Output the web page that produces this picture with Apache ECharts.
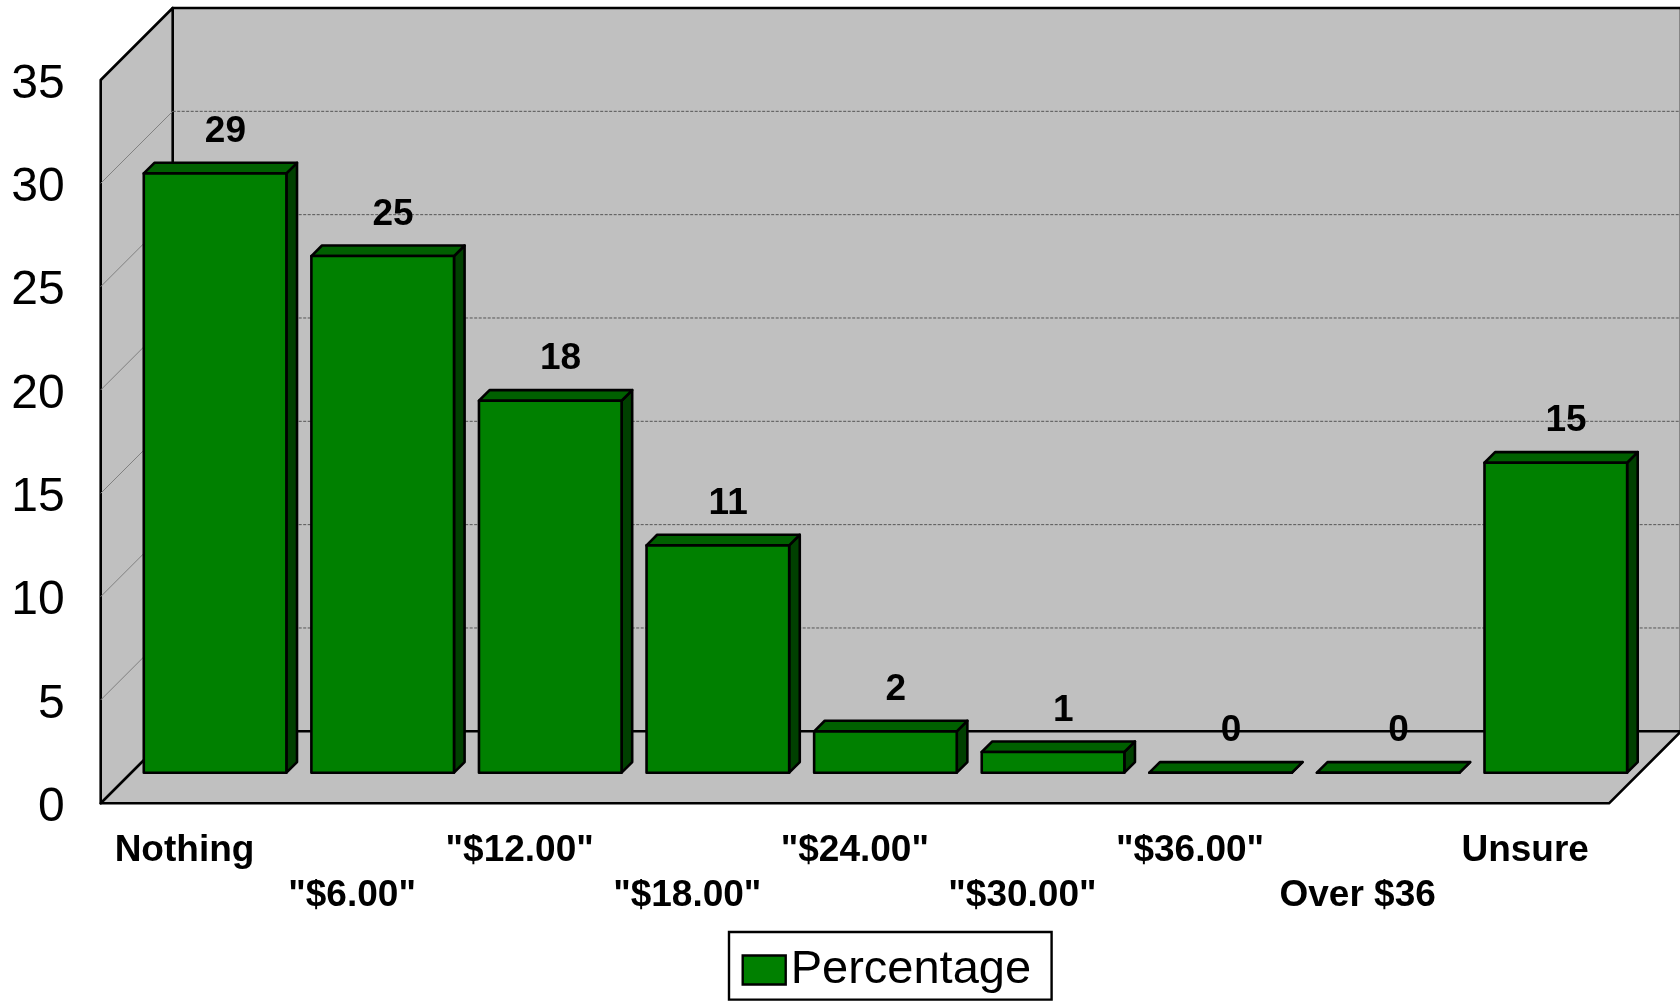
<!DOCTYPE html>
<html>
<head>
<meta charset="utf-8">
<style>html,body{margin:0;padding:0;background:#fff;overflow:hidden}#c{width:1680px;height:1001px}</style>
<script src="https://cdn.jsdelivr.net/npm/echarts@6/dist/echarts.min.js"></script>
</head>
<body>
<div id="c"></div>
<script>
const categories = ['Nothing', '"$6.00"', '"$12.00"', '"$18.00"', '"$24.00"', '"$30.00"', '"$36.00"', 'Over $36', 'Unsure'];
const percentage = [29, 25, 18, 11, 2, 1, 0, 0, 15];
const yTicks = [5, 10, 15, 20, 25, 30];
const seriesName = 'Percentage';

const FONT = '"Liberation Sans", Arial, sans-serif';
const WALL = 72, BAR_OFF = 30.6, BAR_DEPTH = 10.6, BAR_RATIO = 0.851, LW = 2.6;
const FRONT = '#008000', TOP = '#006000', SIDE = '#004000', WALLC = '#C0C0C0';
const edge = { stroke: '#000', lineWidth: LW, lineJoin: 'round' };

function poly(points, fill, z2) {
  return { type: 'polygon', z2: z2 || 0, shape: { points }, style: Object.assign({ fill }, edge) };
}
function line(a, b, stroke, lineWidth, dash) {
  return { type: 'line', shape: { x1: a[0], y1: a[1], x2: b[0], y2: b[1] },
           style: { stroke, lineWidth, lineDash: dash || null, fill: null } };
}

function renderWalls(params, api) {
  const band = api.size([1, 0])[0];
  const l = api.coord([0, 0])[0] - band / 2;
  const r = api.coord([categories.length - 1, 0])[0] + band / 2;
  const y0 = api.coord([0, 0])[1], yT = api.coord([0, 35])[1];
  const children = [
    poly([[l + WALL, yT - WALL], [r + WALL, yT - WALL], [r + WALL, y0 - WALL], [l + WALL, y0 - WALL]], WALLC),
    poly([[l, yT], [l + WALL, yT - WALL], [l + WALL, y0 - WALL], [l, y0]], WALLC),
    poly([[l, y0], [l + WALL, y0 - WALL], [r + WALL, y0 - WALL], [r, y0]], WALLC)
  ];
  yTicks.forEach(v => {
    const y = api.coord([0, v])[1];
    children.push(line([l, y], [l + WALL, y - WALL], '#808080', 1));
    children.push(line([l + WALL, y - WALL], [r + WALL, y - WALL], '#555', 1, [3, 1.5]));
  });
  return { type: 'group', children };
}

function renderBar(params, api) {
  const idx = api.value(0), val = api.value(1);
  const band = api.size([1, 0])[0];
  const w = band * BAR_RATIO;
  const base = api.coord([idx, 0]), top = api.coord([idx, val]);
  const x1 = base[0] - w / 2 + BAR_OFF, x2 = x1 + w;
  const yb = base[1] - BAR_OFF, yt = top[1] - BAR_OFF;
  const d = BAR_DEPTH;
  return { type: 'group', children: [
    poly([[x2, yb], [x2 + d, yb - d], [x2 + d, yt - d], [x2, yt]], SIDE),
    poly([[x1, yt], [x1 + d, yt - d], [x2 + d, yt - d], [x2, yt]], TOP),
    poly([[x1, yb], [x2, yb], [x2, yt], [x1, yt]], FRONT),
    { type: 'text', style: { text: String(val), x: (x1 + x2) / 2 + d - 0.3, y: yt - 41.5,
      textAlign: 'center', textVerticalAlign: 'middle', fill: '#000',
      font: 'bold 37px ' + FONT } }
  ] };
}

const chart = echarts.init(document.getElementById('c'), null, { renderer: 'canvas', width: 1680, height: 1001 });
chart.setOption({
  animation: false,
  backgroundColor: '#fff',
  grid: { left: 100.7, right: 71, top: 80, bottom: 197.7 },
  legend: {
    show: true, left: 729, top: 932, data: [{ name: seriesName, icon: 'rect' }], orient: 'horizontal',
    borderColor: '#000', borderWidth: 2.4, backgroundColor: '#fff', borderRadius: 0,
    padding: [14.5, 20.5, 6.1, 12.5], itemWidth: 43, itemHeight: 29, itemGap: 0,
    selectedMode: false,
    itemStyle: { color: FRONT, borderColor: '#000', borderWidth: 2.4 },
    textStyle: { fontFamily: FONT, fontSize: 47, color: '#000' }
  },
  xAxis: {
    type: 'category', data: categories,
    axisLine: { show: false }, axisTick: { show: false }, splitLine: { show: false },
    axisLabel: {
      interval: 0, margin: 25, fontFamily: FONT, fontSize: 37, fontWeight: 'bold', color: '#000', lineHeight: 45,
      formatter: (v, i) => (i % 2 ? '\n' + v : v)
    }
  },
  yAxis: {
    type: 'value', min: 0, max: 35, interval: 5,
    axisLine: { show: false }, axisTick: { show: false }, splitLine: { show: false },
    axisLabel: { margin: 36, fontFamily: FONT, fontSize: 48, color: '#000',
      formatter: '{a|{value}}',
      rich: { a: { fontFamily: FONT, fontSize: 48, color: '#000', padding: [9, 0, 0, 0] } } }
  },
  series: [
    { type: 'custom', name: 'walls', silent: true, clip: false, z: 1,
      renderItem: renderWalls, data: [[0, 0]], encode: { x: 0, y: 1 } },
    { type: 'custom', name: seriesName, clip: false, z: 2,
      itemStyle: { color: FRONT },
      renderItem: renderBar,
      data: percentage.map((v, i) => [i, v]), encode: { x: 0, y: 1 } }
  ]
});
</script>
</body>
</html>
